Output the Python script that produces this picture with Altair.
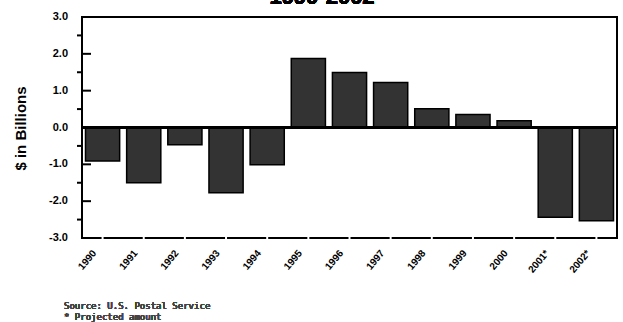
import altair as alt
import pandas as pd

years = ["1990", "1991", "1992", "1993", "1994", "1995", "1996",
         "1997", "1998", "1999", "2000", "2001*", "2002*"]
values = [-0.91, -1.50, -0.47, -1.77, -1.01, 1.87, 1.49,
          1.22, 0.51, 0.35, 0.18, -2.44, -2.53]
major_ticks = [-3.0, -2.0, -1.0, 0.0, 1.0, 2.0, 3.0]
major_labels = ["-3.0", "-2.0", "-1.0", "0.0", "1.0", "2.0", "3.0"]
minor_ticks = [-2.5, -1.5, -0.5, 0.5, 1.5, 2.5]
title_text = "1990-2002"
y_title = "$ in Billions"
source_lines = ["Source: U.S. Postal Service", "* Projected amount"]

W, H = 535, 221
FONT = "Liberation Sans"

df = pd.DataFrame({"year": years, "value": values})
major_df = pd.DataFrame({"value": major_ticks, "label": major_labels})
minor_df = pd.DataFrame({"value": minor_ticks})

yscale = alt.Scale(domain=[-3, 3], nice=False, zero=False)
xscale = alt.Scale(paddingInner=0.17, paddingOuter=0.085)

x_axis = alt.Axis(title=None, domain=False, ticks=False,
                  labelAngle=-50, labelAlign="right",
                  labelBaseline="middle", labelOffset=-8,
                  labelPadding=13, labelFont=FONT,
                  labelFontSize=10, labelFontWeight="bold",
                  labelColor="black", labelOverlap=False)
y_axis = alt.Axis(title=y_title, labels=False,
                  domain=False, ticks=False, grid=False,
                  titleFont=FONT, titleFontSize=15,
                  titleFontWeight="bold", titleColor="black",
                  titleX=-62, titleY=111, titleAngle=-90,
                  titleAlign="center", titleBaseline="middle")

x_enc = alt.X("year:N", sort=years, scale=xscale, axis=x_axis)
y_enc = alt.Y("value:Q", scale=yscale, axis=y_axis)

bars = alt.Chart(df).mark_bar(fill="#333333", stroke="black",
                              strokeWidth=1.5).encode(
    x=x_enc, y=y_enc, y2=alt.datum(0))

zero = alt.Chart(df).mark_rule(color="black", strokeWidth=2).encode(
    y=alt.datum(0))

gaps = alt.Chart(df).mark_rule(color="white", strokeWidth=2).encode(
    x=x_enc, y=alt.value(H - 2), y2=alt.value(H + 2))

major = alt.Chart(major_df).mark_rule(color="black", strokeWidth=2).encode(
    y=y_enc, x=alt.value(0), x2=alt.value(9))

major_text = alt.Chart(major_df).mark_text(
    font=FONT, fontSize=11, fontWeight="bold", align="right",
    baseline="middle", color="black").encode(
    y=y_enc, x=alt.value(-14), text="label:N")

minor = alt.Chart(minor_df).mark_rule(color="black", strokeWidth=2).encode(
    y=y_enc, x=alt.value(-5), x2=alt.value(0))

title = alt.Chart(df).mark_text(text=title_text, font=FONT, fontSize=22,
                                fontWeight="bold", align="center",
                                baseline="alphabetic", color="black").encode(
    x=alt.value(240), y=alt.value(-13))

source = alt.Chart(df).mark_text(text=source_lines, font="DejaVu Sans Mono",
                                 fontSize=9, lineHeight=10.5, align="left",
                                 baseline="alphabetic", color="#444444").encode(
    x=alt.value(-18), y=alt.value(292))

chart = alt.layer(bars, zero, gaps, major, major_text, minor, title,
                  source).properties(
    width=W, height=H,
    autosize=alt.AutoSizeParams(type="none"),
    padding={"left": 82, "top": 17, "right": 6, "bottom": 84},
    background="white",
).configure_view(stroke="black", strokeWidth=2)

chart.save("out.html", embed_options={"renderer": "svg", "actions": False})
